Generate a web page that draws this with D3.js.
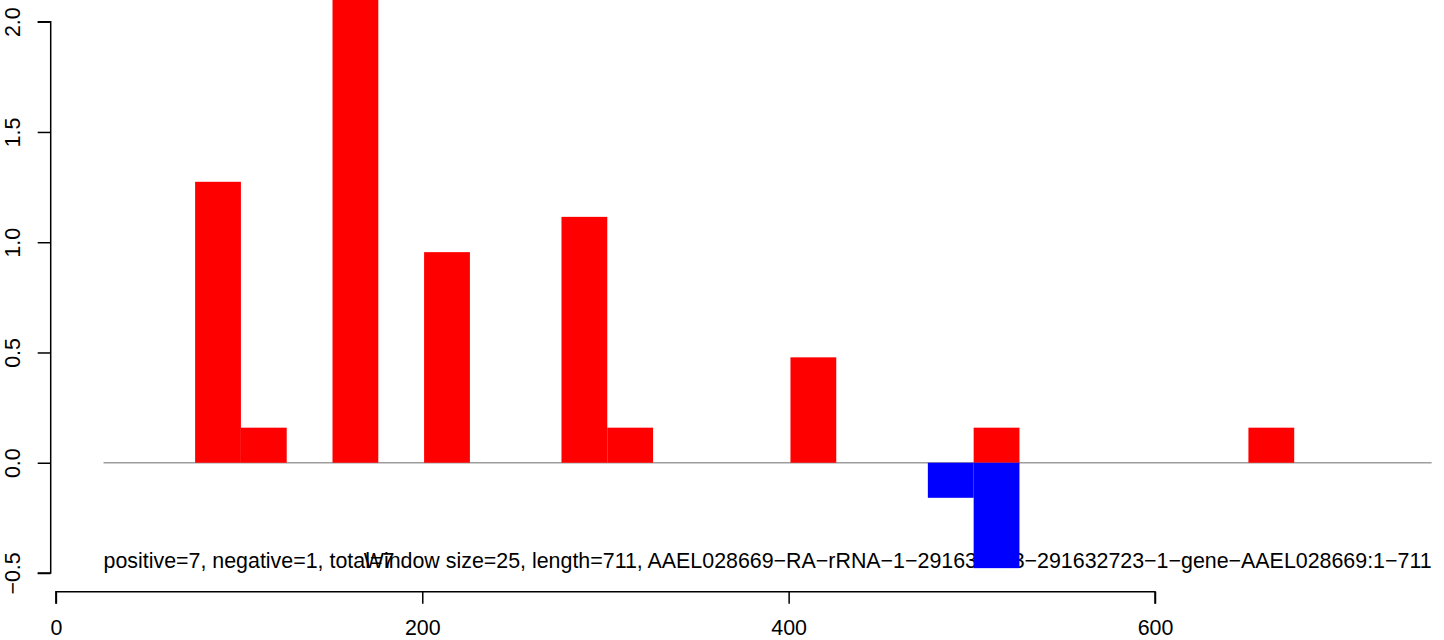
<!DOCTYPE html>
<html>
<head>
<meta charset="utf-8">
<script src="https://cdn.jsdelivr.net/npm/d3@7"></script>
<style>
  html, body { margin: 0; padding: 0; background: #fff; }
  svg { display: block; }
  text { font-family: "Liberation Sans", Arial, Helvetica, sans-serif; }
</style>
</head>
<body>
<svg id="chart" width="1444" height="640"></svg>
<script>
// ---- data ----
const windowSize = 25;
const posStarts = [76, 101, 151, 201, 276, 301, 401, 501, 651];
const posValues = [1.274, 0.159, 2.39, 0.955, 1.115, 0.159, 0.478, 0.159, 0.159];
const negStarts = [476, 501];
const negValues = [-0.159, -0.478];
const xTicks = [0, 200, 400, 600];
const yTicks = [-0.5, 0.0, 0.5, 1.0, 1.5, 2.0];
const yTickLabels = ["\u22120.5", "0.0", "0.5", "1.0", "1.5", "2.0"];
const baselineExtent = [26, 751];
const leftNote = "positive=7, negative=1, total=7";
const rightNote = "Window size=25, length=711, AAEL028669\u2212RA\u2212rRNA\u22121\u2212291632013\u2212291632723\u22121\u2212gene\u2212AAEL028669:1\u2212711";
const noteY = -0.47;

const FS = 21.4;

// ---- scales ----
const x = d3.scaleLinear().domain([0, 600]).range([55.9, 1155]);
const y = d3.scaleLinear().domain([-0.5, 2.0]).range([573, 21.7]);

const svg = d3.select("#chart");
svg.append("rect").attr("width", 1444).attr("height", 640).attr("fill", "#fff");

// baseline
svg.append("line")
  .attr("x1", x(baselineExtent[0])).attr("x2", x(baselineExtent[1]))
  .attr("y1", y(0)).attr("y2", y(0))
  .attr("stroke", "#9e9e9e").attr("stroke-width", 1.5);

// notes
svg.append("text").attr("x", x(baselineExtent[0])).attr("y", y(noteY) + 1.5)
  .attr("font-size", FS).attr("fill", "#000").text(leftNote);
svg.append("text").attr("x", x(baselineExtent[1])).attr("y", y(noteY) + 1.5)
  .attr("font-size", FS).attr("fill", "#000").attr("text-anchor", "end")
  .text(rightNote);

// bars
const pos = posStarts.map((s, i) => ({s, v: posValues[i]}));
const neg = negStarts.map((s, i) => ({s, v: negValues[i]}));
svg.selectAll("rect.pos").data(pos).enter().append("rect")
  .attr("class", "pos")
  .attr("x", d => x(d.s)).attr("width", d => x(d.s + windowSize) - x(d.s))
  .attr("y", d => y(d.v)).attr("height", d => y(0) - y(d.v))
  .attr("fill", "#ff0000");
svg.selectAll("rect.neg").data(neg).enter().append("rect")
  .attr("class", "neg")
  .attr("x", d => x(d.s)).attr("width", d => x(d.s + windowSize) - x(d.s))
  .attr("y", y(0)).attr("height", d => y(d.v) - y(0))
  .attr("fill", "#0000ff");

// x axis
const xAxis = d3.axisBottom(x).tickValues(xTicks).tickFormat(d3.format("d")).tickSize(12).tickPadding(16);
const gx = svg.append("g").attr("transform", "translate(0,591.7)").call(xAxis);
gx.select(".domain").attr("stroke", "#000").attr("stroke-width", 1.5)
  .attr("d", `M${x(0)},12V0H${x(600)}V12`);
gx.selectAll(".tick line").attr("stroke", "#000").attr("stroke-width", 1.5);
gx.selectAll(".tick text").attr("font-size", FS).attr("fill", "#000")
  .attr("font-family", "Liberation Sans, Arial, sans-serif")
  .attr("dy", null).attr("y", 43.3);

// y axis
const yAxis = d3.axisLeft(y).tickValues(yTicks)
  .tickFormat((d, i) => yTickLabels[i]).tickSize(13);
const gy = svg.append("g").attr("transform", "translate(50.7,0)").call(yAxis);
gy.select(".domain").attr("stroke", "#000").attr("stroke-width", 1.5)
  .attr("d", `M-13,${y(-0.5)}H0V${y(2.0)}H-13`);
gy.selectAll(".tick line").attr("stroke", "#000").attr("stroke-width", 1.5);
gy.selectAll(".tick text")
  .attr("font-size", FS).attr("fill", "#000")
  .attr("font-family", "Liberation Sans, Arial, sans-serif")
  .attr("x", null).attr("dy", null)
  .attr("text-anchor", "middle")
  .attr("transform", "translate(-30.7,0) rotate(-90)");
</script>
</body>
</html>
